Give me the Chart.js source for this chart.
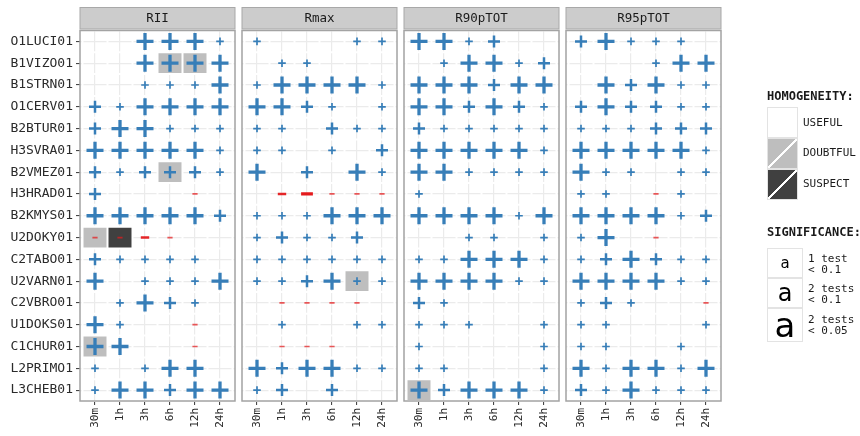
<!DOCTYPE html>
<html>
<head>
<meta charset="utf-8">
<script src="https://cdn.jsdelivr.net/npm/chart.js@4/dist/chart.umd.min.js"></script>
<style>
  html, body { margin: 0; padding: 0; background: #fff; }
  #wrap { position: relative; width: 860px; height: 436px; overflow: hidden; }
  #c { position: absolute; left: 0; top: 0; }
  .ttl { position: absolute; left: 767px; font: bold 12px 'DejaVu Sans Mono', monospace; line-height: 12px; color: #1a1a1a; white-space: nowrap; }
  .lab { position: absolute; left: 803px; font: 11px 'DejaVu Sans Mono', monospace; line-height: 12px; color: #1a1a1a; white-space: nowrap; }
  .lab2 { position: absolute; left: 808px; font: 11px 'DejaVu Sans Mono', monospace; line-height: 11px; color: #1a1a1a; white-space: pre; }
  .hk { position: absolute; left: 767px; width: 31px; height: 31px; box-sizing: border-box; border: 1px solid #e3e3e3; background: #fff; }
  .dg { background: linear-gradient(to bottom right, var(--k) calc(50% - 0.9px), #fff calc(50% - 0.9px), #fff calc(50% + 0.9px), var(--k) calc(50% + 0.9px)); }
  .sk { position: absolute; left: 767px; width: 36px; box-sizing: border-box; border: 1px solid #e3e3e3; background: #fff;
        display: flex; align-items: center; justify-content: center; font-family: 'DejaVu Sans', sans-serif; color: #000; }
</style>
</head>
<body>
<div id="wrap">
  <canvas id="c" width="860" height="436"></canvas>

  <div class="ttl" style="top:90px">HOMOGENEITY:</div>
  <div class="hk" style="top:107px"></div>
  <div class="hk dg" style="top:138px;--k:#bebebe"></div>
  <div class="hk dg" style="top:169px;--k:#404040"></div>
  <div class="lab" style="top:117px">USEFUL</div>
  <div class="lab" style="top:147px">DOUBTFUL</div>
  <div class="lab" style="top:178px">SUSPECT</div>

  <div class="ttl" style="top:226px">SIGNIFICANCE:</div>
  <div class="sk" style="top:248px;height:30px;font-size:15px;line-height:15px">a</div>
  <div class="sk" style="top:278px;height:30px;font-size:24px;line-height:24px">a</div>
  <div class="sk" style="top:308px;height:34px;font-size:34px;line-height:34px">a</div>
  <div class="lab2" style="top:253px">1 test
&lt; 0.1</div>
  <div class="lab2" style="top:283px">2 tests
&lt; 0.1</div>
  <div class="lab2" style="top:314px">2 tests
&lt; 0.05</div>
</div>

<script>
// Stations (rows), accumulation durations (columns) and indices (facets)
const stations = ['O1LUCI01','B1VIZO01','B1STRN01','O1CERV01','B2BTUR01','H3SVRA01','B2VMEZ01','H3HRAD01',
                  'B2KMYS01','U2DOKY01','C2TABO01','U2VARN01','C2VBRO01','U1DOKS01','C1CHUR01','L2PRIMO1','L3CHEB01'];
const durations = ['30m','1h','3h','6h','12h','24h'];
const indices = ['RII','Rmax','R90pTOT','R95pTOT'];

// Trend codes: sign = direction of the trend, magnitude = significance
// (1: one test < 0.1, 2: two tests < 0.1, 3: two tests < 0.05), 0 = not significant
const trendRII = [
  [0,0,3,3,3,1],
  [0,0,3,3,3,3],
  [0,0,1,1,1,3],
  [2,1,3,3,3,3],
  [2,3,3,1,1,1],
  [3,3,3,3,3,1],
  [2,1,2,2,2,1],
  [2,0,0,0,-1,0],
  [3,3,3,3,3,2],
  [-1,-1,-2,-1,0,0],
  [2,1,1,1,1,0],
  [3,0,1,1,1,3],
  [0,1,3,2,1,0],
  [3,1,0,0,-1,0],
  [3,3,0,0,-1,0],
  [1,0,1,3,3,0],
  [1,3,3,2,3,3]
];
const trendRmax = [
  [1,0,0,0,1,1],
  [0,1,1,0,0,0],
  [1,3,3,3,3,1],
  [3,3,2,1,0,1],
  [1,1,0,2,1,1],
  [1,1,0,1,0,2],
  [3,0,2,0,3,1],
  [0,-2,-3,-1,-1,-1],
  [1,1,1,3,3,3],
  [1,2,1,1,2,0],
  [1,1,1,1,1,1],
  [1,1,2,3,1,1],
  [0,-1,-1,-1,-1,0],
  [0,1,0,0,1,1],
  [0,-1,-1,-1,0,0],
  [3,2,3,3,1,1],
  [1,2,0,2,0,0]
];
const trendR90pTOT = [
  [3,3,1,2,0,0],
  [0,1,3,3,1,2],
  [3,3,3,2,3,3],
  [3,3,2,3,2,1],
  [2,1,1,1,1,1],
  [3,3,3,3,3,1],
  [3,3,1,1,1,1],
  [1,0,0,0,0,0],
  [3,3,3,3,1,3],
  [0,0,1,1,0,1],
  [1,1,3,3,3,1],
  [3,3,3,3,1,1],
  [2,1,0,0,0,0],
  [1,1,1,0,0,1],
  [1,0,0,0,0,1],
  [1,1,0,0,0,1],
  [3,2,3,3,3,1]
];
const trendR95pTOT = [
  [2,3,1,1,1,0],
  [0,0,0,1,3,3],
  [0,3,2,3,1,1],
  [2,3,2,2,1,1],
  [1,1,1,2,2,2],
  [3,3,3,3,3,1],
  [3,1,1,0,1,1],
  [1,1,0,-1,1,0],
  [3,3,3,3,1,2],
  [1,3,0,-1,0,0],
  [1,2,3,2,1,1],
  [3,3,3,3,1,1],
  [1,2,1,0,0,-1],
  [1,1,0,0,0,1],
  [1,1,0,0,1,0],
  [3,1,3,3,1,3],
  [2,1,3,1,1,1]
];

// Homogeneity flags of single series (all others are useful)
const doubtfulCells = [
  ['RII','B1VIZO01','6h'], ['RII','B1VIZO01','12h'], ['RII','B2VMEZ01','6h'],
  ['RII','U2DOKY01','30m'], ['RII','C1CHUR01','30m'],
  ['Rmax','U2VARN01','12h'], ['R90pTOT','L3CHEB01','30m']
];
const suspectCells = [['RII','U2DOKY01','1h']];

// ---- facet geometry on a shared x axis (1 unit = one duration column)
const PANEL_W = 6.2, PANEL_STEP = 6.48, COL_OFF = 0.6;
const X_MAX = PANEL_STEP * (indices.length - 1) + PANEL_W;
const colX = (p, c) => p * PANEL_STEP + COL_OFF + c;

const trendsByIndex = { RII: trendRII, Rmax: trendRmax, R90pTOT: trendR90pTOT, R95pTOT: trendR95pTOT };

const markerData = [];
indices.forEach((name, p) => {
  trendsByIndex[name].forEach((row, s) => {
    row.forEach((v, c) => {
      if (v !== 0) markerData.push({ x: colX(p, c), y: stations[s], v });
    });
  });
});

const tileData = [];
[[doubtfulCells, 1], [suspectCells, 2]].forEach(([list, level]) => {
  list.forEach(([ind, st, dur]) => {
    const cx = colX(indices.indexOf(ind), durations.indexOf(dur));
    tileData.push({ y: st, x: [cx - 0.5, cx + 0.5], level });
  });
});

const tickPositions = [];
indices.forEach((_, p) => durations.forEach((_, c) => tickPositions.push(colX(p, c))));

const BLUE = '#377EB8';
const RED = ['', 'rgba(228,26,28,0.72)', 'rgba(228,26,28,0.95)', '#E41A1C'];
const PLUS_R = [0, 3.8, 6, 8.5];
const MINUS_R = [0, 2.6, 4.2, 5.9];
const STROKE = [0, 1.7, 2.5, 3.3];
const TILE_DATASET = 1;

const facets = {
  id: 'facets',
  beforeDatasetsDraw(chart) {
    // blank out the gutters between facet panels
    const { ctx, chartArea: a, scales: { x } } = chart;
    ctx.save();
    ctx.fillStyle = '#fff';
    for (let p = 0; p < indices.length - 1; p++) {
      const l = x.getPixelForValue(p * PANEL_STEP + PANEL_W);
      const r = x.getPixelForValue((p + 1) * PANEL_STEP);
      ctx.fillRect(l, a.top - 2, r - l, a.bottom - a.top + 4);
    }
    ctx.restore();
  },
  afterDatasetDraw(chart, args) {
    if (args.index !== TILE_DATASET) return;
    // white cell outlines over grid and tiles
    const { ctx, chartArea: a, scales: { x, y } } = chart;
    ctx.save();
    ctx.strokeStyle = '#fff';
    ctx.lineWidth = 2;
    ctx.beginPath();
    indices.forEach((_, p) => {
      const l = x.getPixelForValue(p * PANEL_STEP), r = x.getPixelForValue(p * PANEL_STEP + PANEL_W);
      for (let c = 0; c <= durations.length; c++) {
        const px = x.getPixelForValue(colX(p, c) - 0.5);
        ctx.moveTo(px, a.top); ctx.lineTo(px, a.bottom);
      }
      for (let i = 0; i <= stations.length; i++) {
        const py = y.getPixelForValue(i - 0.5);
        ctx.moveTo(l, py); ctx.lineTo(r, py);
      }
    });
    ctx.stroke();
    ctx.restore();
  },
  afterDatasetsDraw(chart) {
    const { ctx, chartArea: a, scales: { x } } = chart;
    ctx.save();
    indices.forEach((name, p) => {
      const l = x.getPixelForValue(p * PANEL_STEP), r = x.getPixelForValue(p * PANEL_STEP + PANEL_W);
      // panel border
      ctx.strokeStyle = '#a3a3a3';
      ctx.lineWidth = 1.5;
      ctx.strokeRect(l, a.top, r - l, a.bottom - a.top);
      // strip
      ctx.fillStyle = '#cccccc';
      ctx.fillRect(l, 7.5, r - l, 21.5);
      ctx.lineWidth = 1;
      ctx.strokeStyle = '#a8a8a8';
      ctx.strokeRect(l, 7.5, r - l, 21.5);
      ctx.fillStyle = '#1a1a1a';
      ctx.font = "12.5px 'DejaVu Sans Mono'";
      ctx.textAlign = 'center';
      ctx.textBaseline = 'middle';
      ctx.fillText(name, (l + r) / 2, 18.5);
    });
    ctx.restore();
  }
};

const markerV = c => (c.raw && typeof c.raw.v === 'number') ? c.raw.v : 1;
const markerR = c => { const v = markerV(c); return v > 0 ? PLUS_R[v] : MINUS_R[-v]; };

new Chart(document.getElementById('c'), {
  type: 'scatter',
  data: {
    datasets: [
      {
        type: 'scatter',
        data: markerData,
        order: 1,
        pointStyle: c => markerV(c) < 0 ? 'line' : 'cross',
        radius: markerR,
        hoverRadius: markerR,
        borderWidth: c => STROKE[Math.abs(markerV(c))],
        hoverBorderWidth: c => STROKE[Math.abs(markerV(c))],
        borderColor: c => { const v = markerV(c); return v > 0 ? BLUE : RED[-v]; },
        backgroundColor: 'rgba(0,0,0,0)'
      },
      {
        type: 'bar',
        indexAxis: 'y',
        data: tileData,
        order: 2,
        backgroundColor: c => (c.raw && c.raw.level === 2) ? '#404040' : '#bebebe',
        borderWidth: 0,
        barPercentage: 1,
        categoryPercentage: 1,
        grouped: false
      }
    ]
  },
  options: {
    responsive: false,
    animation: false,
    events: [],
    devicePixelRatio: 1,
    layout: { padding: { top: 30.5, right: 139, bottom: 0, left: 0 } },
    plugins: { legend: { display: false }, tooltip: { enabled: false } },
    scales: {
      x: {
        type: 'linear',
        min: 0,
        max: X_MAX,
        afterBuildTicks: s => { s.ticks = tickPositions.map(v => ({ value: v })); },
        afterFit: s => { s.height = 35; },
        grid: { color: '#ebebeb', lineWidth: 1.2, tickColor: '#333', tickLength: 4, tickWidth: 1 },
        border: { display: false },
        ticks: {
          autoSkip: false,
          minRotation: 90,
          maxRotation: 90,
          padding: 3,
          color: '#2b2b2b',
          font: { family: "'DejaVu Sans Mono'", size: 11 },
          callback: (val, i) => durations[i % durations.length]
        }
      },
      y: {
        type: 'category',
        labels: stations,
        offset: true,
        afterFit: s => { s.width = 80; },
        grid: { color: '#ebebeb', lineWidth: 1.2, tickColor: '#333', tickLength: 4, tickWidth: 1, offset: false },
        border: { display: false },
        ticks: {
          autoSkip: false,
          padding: 3,
          color: '#2b2b2b',
          font: { family: "'DejaVu Sans Mono'", size: 13 }
        }
      }
    }
  },
  plugins: [facets]
});
</script>
</body>
</html>
